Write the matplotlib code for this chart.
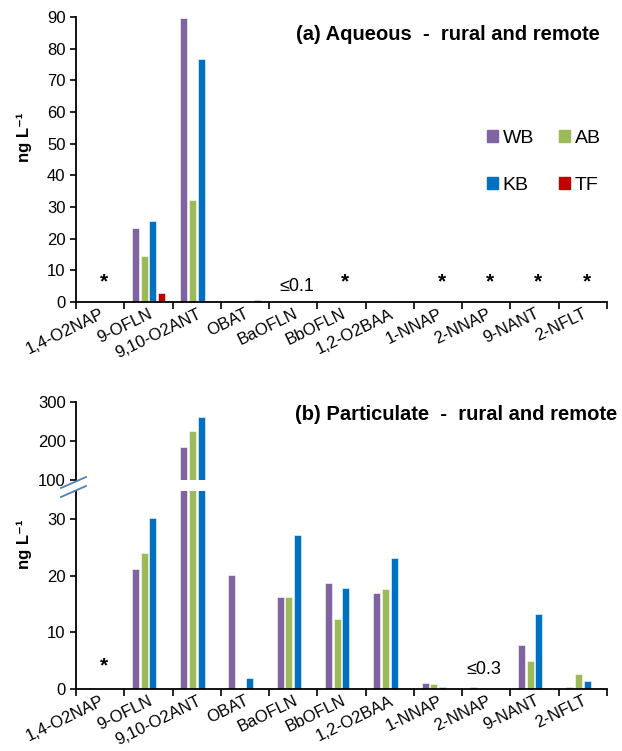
import numpy as np
import matplotlib
matplotlib.use("Agg")
import matplotlib.pyplot as plt
from matplotlib.patches import Patch

plt.rcParams['font.family'] = ['Liberation Sans', 'DejaVu Sans']

# compounds on the x axis
categories = ['1,4-O2NAP', '9-OFLN', '9,10-O2ANT', 'OBAT', 'BaOFLN', 'BbOFLN',
              '1,2-O2BAA', '1-NNAP', '2-NNAP', '9-NANT', '2-NFLT']
series = ['WB', 'AB', 'KB', 'TF']
colors = ['#8064A2', '#9BBB59', '#0070C0', '#C00000']

# (a) aqueous, ng/L
aq_wb = [0, 23.3, 89.8, 0, 0, 0, 0.4, 0, 0, 0, 0]
aq_ab = [0, 14.5, 32.3, 0, 0, 0, 0, 0, 0, 0, 0]
aq_kb = [0, 25.5, 76.6, 0, 0, 0, 0.4, 0, 0, 0, 0]
aq_tf = [0, 2.7, 0, 0.7, 0, 0, 0, 0, 0, 0, 0]

# (b) particulate, ng/L (no TF data)
pa_wb = [0, 21.2, 185, 20.1, 16.3, 18.8, 16.9, 1.1, 0.3, 7.7, 0.3]
pa_ab = [0, 24.0, 225, 0, 16.3, 12.3, 17.6, 0.95, 0, 4.9, 2.7]
pa_kb = [0, 30.2, 261, 1.95, 27.2, 17.9, 23.1, 0.4, 0, 13.2, 1.4]
pa_tf = [np.nan] * 11

# annotations: not detected (*) and below-limit notes
aq_star = [0, 5, 7, 8, 9, 10]
aq_note = (4, '≤0.1')
pa_star = [0]
pa_note = (8, '≤0.3')

W, H = 622, 751
fig = plt.figure(figsize=(W / 100, H / 100), dpi=100)

x = np.arange(len(categories)) + 0.5
slot = 0.18
width = 0.145
offsets = (np.arange(4) - 1.5) * slot


def style(ax, ylim, yticks):
    ax.set_xlim(0, len(categories))
    ax.set_ylim(*ylim)
    ax.set_yticks(yticks)
    for s in ['top', 'right']:
        ax.spines[s].set_visible(False)
    for s in ['left', 'bottom']:
        ax.spines[s].set_linewidth(1.3)
    ax.tick_params(axis='y', labelsize=12, length=4, width=1.2, direction='out')
    ax.tick_params(axis='x', length=5, width=1.2, direction='out')


def draw_bars(ax, data):
    for vals, off, c, name in zip(data, offsets, colors, series):
        ax.bar(x + off, vals, width, color=c, edgecolor='white', linewidth=0.4, label=name)


def set_xlabels(ax):
    ax.set_xticks(np.arange(len(categories) + 1))
    ax.set_xticklabels([])
    ax.set_xticks(x, minor=True)
    ax.set_xticklabels(categories, minor=True, rotation=26, ha='right',
                       rotation_mode='anchor', fontsize=12)
    ax.tick_params(axis='x', which='minor', length=0, pad=3)


# ---- (a) aqueous ----
ax1 = fig.add_axes([76 / W, 1 - 302 / H, 531 / W, 285 / H])
draw_bars(ax1, [aq_wb, aq_ab, aq_kb, aq_tf])
style(ax1, (0, 90), range(0, 91, 10))
set_xlabels(ax1)
for i in aq_star:
    ax1.text(x[i] + 0.08, 6.5, '*', ha='center', va='center', fontsize=15, fontweight='bold')
ax1.text(x[aq_note[0]] + 0.08, 5, aq_note[1], ha='center', va='center', fontsize=13)
# legend filled column-wise, so order gives rows WB AB / KB TF
order = [0, 2, 1, 3]
leg = ax1.legend(handles=[Patch(color=colors[k], label=series[k]) for k in order],
                 ncol=2, frameon=False, fontsize=14, loc='upper left',
                 bbox_to_anchor=(487 / W, 1 - 130 / H), bbox_transform=fig.transFigure,
                 handlelength=0.55, handleheight=0.55, handletextpad=0.25,
                 columnspacing=1.3, labelspacing=1.55, borderpad=0, borderaxespad=0)
fig.text(600 / W, 1 - 35 / H, '(a) Aqueous  -  rural and remote', ha='right', va='center',
         fontsize=14.5, fontweight='bold')
fig.text(24 / W, 1 - 137 / H, 'ng L⁻¹', rotation=90, ha='center', va='center',
         fontsize=12, fontweight='bold')

# ---- (b) particulate, broken axis ----
ax_hi = fig.add_axes([76 / W, 1 - 480 / H, 531 / W, 78 / H])
ax_lo = fig.add_axes([76 / W, 1 - 689 / H, 531 / W, 198 / H])
pa = [pa_wb, pa_ab, pa_kb, pa_tf]
draw_bars(ax_hi, pa)
draw_bars(ax_lo, pa)
style(ax_hi, (100, 300), [100, 200, 300])
style(ax_lo, (0, 35), [0, 10, 20, 30])
ax_hi.spines['bottom'].set_visible(False)
ax_hi.set_xticks([])
set_xlabels(ax_lo)
for i in pa_star:
    ax_lo.text(x[i] + 0.08, 4.0, '*', ha='center', va='center', fontsize=15, fontweight='bold')
ax_lo.text(x[pa_note[0]] - 0.05, 3.4, pa_note[1], ha='center', va='center', fontsize=13)

# break marks on the y axis
for y0 in (488, 497):
    fig.add_artist(plt.Line2D([61 / W, 86 / W], [1 - y0 / H, 1 - (y0 - 11) / H],
                              color='#4F81BD', linewidth=1.3))

fig.text(617 / W, 1 - 415 / H, '(b) Particulate  -  rural and remote', ha='right', va='center',
         fontsize=14.5, fontweight='bold')
fig.text(24 / W, 1 - 544 / H, 'ng L⁻¹', rotation=90, ha='center', va='center',
         fontsize=12, fontweight='bold')

fig.savefig('out.png', dpi=100)
